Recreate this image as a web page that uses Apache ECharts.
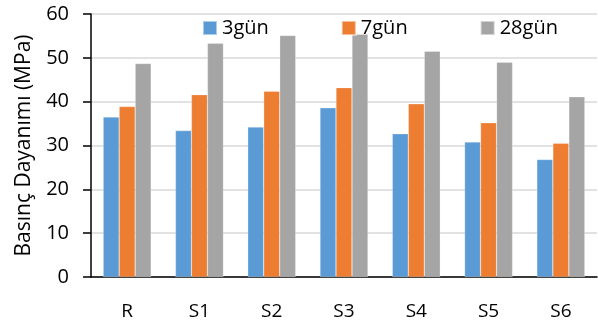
<!DOCTYPE html>
<html><head><meta charset="utf-8">
<script src="https://cdn.jsdelivr.net/npm/echarts@6/dist/echarts.min.js"></script>
<style>html,body{margin:0;padding:0;background:#fff}#c{width:598px;height:321px}</style>
</head><body><div id="c"></div>
<script>
const categories = ['R','S1','S2','S3','S4','S5','S6'];
const seriesNames = ['3gün','7gün','28gün'];
const d3 = [36.5, 33.4, 34.2, 38.6, 32.7, 30.8, 26.8];
const d7 = [38.9, 41.6, 42.4, 43.2, 39.5, 35.2, 30.5];
const d28 = [48.7, 53.3, 55.1, 55.4, 51.5, 49.0, 41.1];
const yTicks = [0,10,20,30,40,50,60];
const colors = ['#5b9bd5','#ed7d31','#a5a5a5'];
const font = "'Open Sans', sans-serif";
const chart = echarts.init(document.getElementById('c'));
chart.setOption({
  animation:false,
  textStyle:{fontFamily:font},
  legend:{
    data:seriesNames, left:197, top:13, itemWidth:14, itemHeight:14, itemGap:72,
    icon:'rect', textStyle:{fontSize:20,color:'#000',fontFamily:font}
  },
  grid:{left:91,right:1,top:14,bottom:43,containLabel:false},
  xAxis:{
    type:'category', data:categories,
    axisLine:{lineStyle:{color:'#000',width:1.5}},
    axisTick:{show:false},
    axisLabel:{fontSize:19,color:'#000',margin:25,fontFamily:font}
  },
  yAxis:{
    type:'value', min:yTicks[0], max:yTicks[yTicks.length-1], interval:10,
    name:'Basınç Dayanımı (MPa)', nameLocation:'middle', nameGap:56, nameRotate:90,
    nameTextStyle:{fontSize:21,color:'#000',fontFamily:font},
    axisLine:{show:true,lineStyle:{color:'#000',width:1.5}},
    axisTick:{show:true,length:8,lineStyle:{color:'#000',width:1.5}},
    axisLabel:{fontSize:20,color:'#000',margin:22,fontFamily:font},
    splitLine:{lineStyle:{color:'#d9d9d9',width:1.5}}
  },
  series:[d3,d7,d28].map((d,i)=>({
    name:seriesNames[i], type:'bar', data:d, barGap:'0%', barCategoryGap:'33.6%',
    itemStyle:{color:colors[i],borderColor:'rgba(255,255,255,0.5)',borderWidth:0.5}
  }))
});
</script></body></html>
